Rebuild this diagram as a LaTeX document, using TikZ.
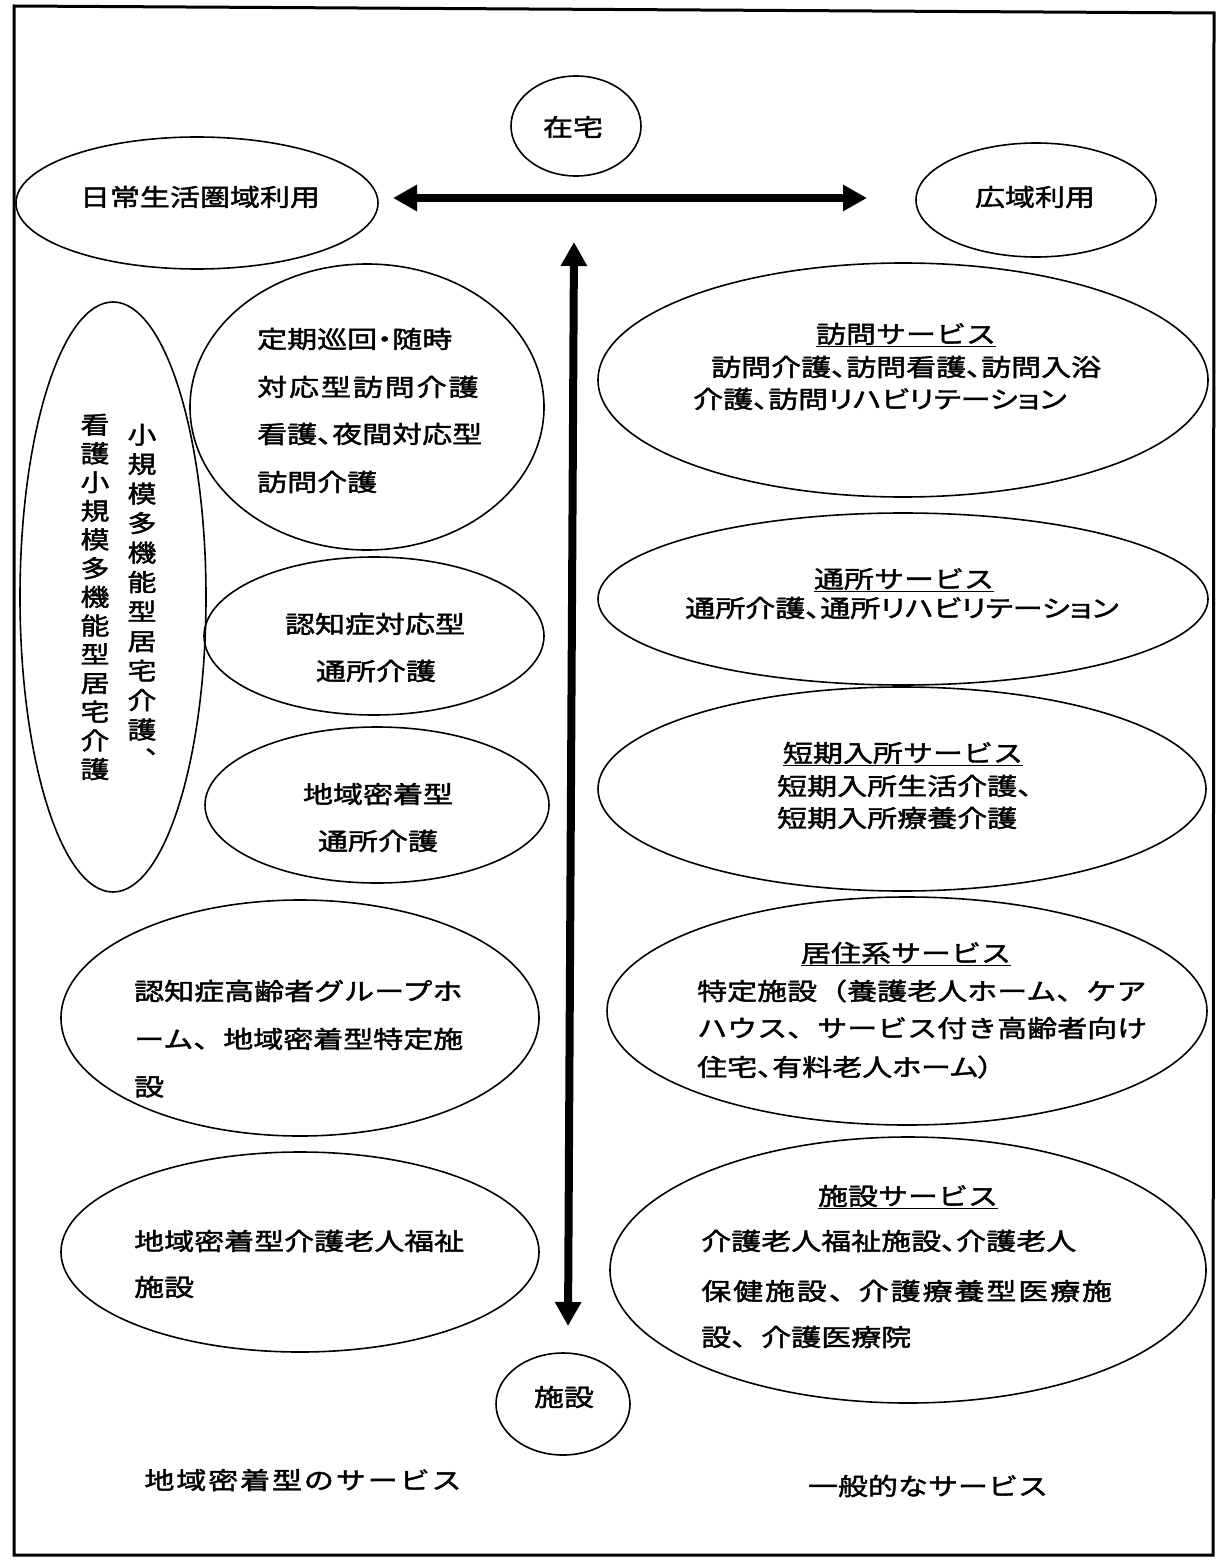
\documentclass[tikz,border=0pt]{standalone}
\usepackage{fontspec}
\newfontfamily\jp[FakeStretch=1.25,FakeBold=1.8]{Noto Sans CJK JP}
\newfontfamily\jpp[FakeStretch=1.25,FakeBold=1.8,RawFeature=+palt]{Noto Sans CJK JP}
\newfontfamily\jpv[FakeStretch=1.2,FakeBold=1.8,RawFeature=+vert]{Noto Sans CJK JP}
\newcommand\kgap{\hspace{1.9pt}}
\usetikzlibrary{shapes.geometric,arrows.meta}
\begin{document}
\begin{tikzpicture}[x=1pt,y=-1pt,
  oval/.style={ellipse,draw,line width=1.6pt,inner sep=0pt},
  txt/.style={font=\jp\fontsize{24}{28}\selectfont,inner sep=0pt},
  ptxt/.style={font=\jpp\fontsize{24}{28}\selectfont,inner sep=0pt},
  ltxt/.style={txt,anchor=west},
  lptxt/.style={ptxt,anchor=west},
  vtxt/.style={inner sep=0pt,align=center},
  bigarrow/.style={line width=8pt,{Triangle[length=24pt,width=25pt]}-{Triangle[length=24pt,width=25pt]}}]
\useasboundingbox (0,0) rectangle (1223,1562);
\fill[white] (0,0) rectangle (1223,1562);
% frame
\draw[line width=3pt] (14,6) -- (1214,13) -- (1213,1555) -- (14,1555) -- cycle;

% top
\node[oval,minimum width=130pt,minimum height=100pt] (zaitaku) at (576,126) {};
\node[txt] (zaitakuT) at (573,127) {在宅};
\node[oval,minimum width=362pt,minimum height=132pt] (nichijo) at (197,203) {};
\node[txt] (nichijoT) at (200,197) {日常生活圏域利用};
\node[oval,minimum width=240pt,minimum height=114pt] (koiki) at (1036,200) {};
\node[txt] (koikiT) at (1035,197) {広域利用};

\coordinate (hl) at (393,198);
\coordinate (hr) at (867,198);
\draw[bigarrow] (hl) -- (hr);
\coordinate (vt) at (574,242);
\coordinate (vb) at (568,1326);
\draw[bigarrow] (vt) -- (vb);

% left column
\node[oval,minimum width=186pt,minimum height=590pt] (shokibo) at (113,597) {};
\node[vtxt,font=\jpv\fontsize{24}{29.5}\selectfont] (shokiboA) at (142,596)
  {小\\規\\模\\多\\機\\能\\型\\居\\宅\\介\\護\\、};
\node[vtxt,font=\jpv\fontsize{24}{28.7}\selectfont] (shokiboB) at (95,597)
  {看\\護\\小\\規\\模\\多\\機\\能\\型\\居\\宅\\介\\護};

\node[oval,minimum width=354pt,minimum height=286pt] (teiki) at (367,407) {};
\node[lptxt] (teiki1) at (257,339) {定期巡回・随時};
\node[ltxt] (teiki2) at (257,387) {対\kgap 応\kgap 型\kgap 訪\kgap 問\kgap 介\kgap 護};
\node[lptxt] (teiki3) at (257,434) {看護、夜間対応型};
\node[ltxt] (teiki4) at (257,482) {訪問介護};

\node[oval,minimum width=340pt,minimum height=158pt] (ninchi) at (374,636) {};
\node[txt] (ninchi1) at (375,624) {認知症対応型};
\node[txt] (ninchi2) at (376,671) {通所介護};

\node[oval,minimum width=344pt,minimum height=156pt] (chiiki) at (377,805) {};
\node[txt] (chiiki1) at (378,794) {地域密着型};
\node[txt] (chiiki2) at (378,841) {通所介護};

\node[oval,minimum width=478pt,minimum height=236pt] (group) at (300,1018) {};
\node[ltxt] (group1) at (134,991) {認知症高齢者グループホ};
\node[ltxt] (group2) at (134,1039) {ーム、地域密着型特定施};
\node[ltxt] (group3) at (134,1087) {設};

\node[oval,minimum width=478pt,minimum height=200pt] (tokuyo) at (300,1252) {};
\node[ltxt] (tokuyo1) at (134,1241) {地域密着型介護老人福祉};
\node[ltxt] (tokuyo2) at (134,1287) {施設};

\node[oval,minimum width=134pt,minimum height=102pt] (shisetsu) at (563,1404) {};
\node[txt] (shisetsuT) at (564,1397) {施設};

\node[txt] (chiikiLabel) at (303,1480) {地\kgap 域\kgap 密\kgap 着\kgap 型\kgap の\kgap サ\kgap ー\kgap ビ\kgap ス};

% right column
\node[oval,minimum width=610pt,minimum height=234pt] (homon) at (903,380) {};
\node[txt] (homon0) at (906,335) {\underline{訪問サービス}};
\node[lptxt] (homon1) at (711,367) {訪問介護、訪問看護、訪問入浴};
\node[lptxt] (homon2) at (693,399) {介護、訪問リハビリテーション};

\node[oval,minimum width=610pt,minimum height=172pt] (tsusho) at (903,599) {};
\node[txt] (tsusho0) at (904,580) {\underline{通所サービス}};
\node[ptxt] (tsusho1) at (902,608) {通所介護、通所リハビリテーション};

\node[oval,minimum width=608pt,minimum height=204pt] (tanki) at (902,789) {};
\node[txt] (tanki0) at (903,754) {\underline{短期入所サービス}};
\node[ltxt] (tanki1) at (777,786) {短期入所生活介護、};
\node[ltxt] (tanki2) at (777,818) {短期入所療養介護};

\node[oval,minimum width=600pt,minimum height=228pt] (kyoju) at (907,1011) {};
\node[txt] (kyoju0) at (906,954) {\underline{居住系サービス}};
\node[ltxt] (kyoju1) at (697,991) {特定施設（養護老人ホーム、ケア};
\node[ltxt] (kyoju2) at (697,1028) {ハウス、サービス付き高齢者向け};
\node[lptxt] (kyoju3) at (697,1067) {住宅、有料老人ホーム）};

\node[oval,minimum width=596pt,minimum height=266pt] (shisetsuS) at (908,1270) {};
\node[txt] (shisetsuS0) at (908,1197) {\underline{施設サービス}};
\node[lptxt] (shisetsuS1) at (701,1241) {介護老人福祉施設、介護老人};
\node[ltxt] (shisetsuS2) at (701,1291) {保\kgap 健\kgap 施\kgap 設\kgap 、介\kgap 護\kgap 療\kgap 養\kgap 型\kgap 医\kgap 療\kgap 施};
\node[ltxt] (shisetsuS3) at (701,1337) {設、介護医療院};

\node[txt] (ippanLabel) at (928,1486) {一般的なサービス};
\end{tikzpicture}
\end{document}
